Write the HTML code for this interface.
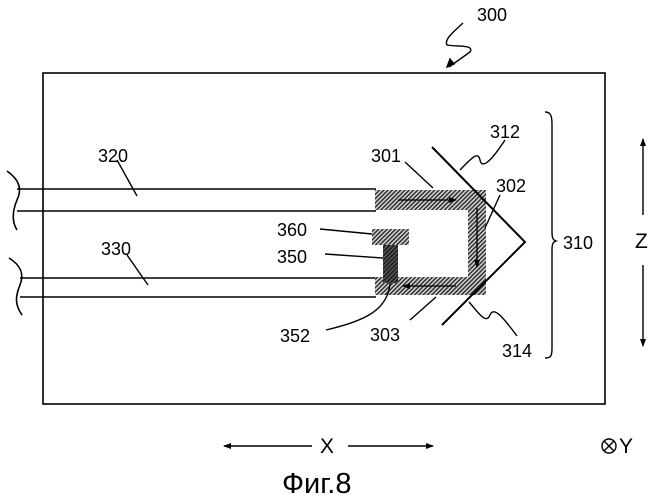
<!DOCTYPE html>
<html><head><meta charset="utf-8"><style>
html,body{margin:0;padding:0;background:#fff;}
svg{display:block;}
text{font-family:"Liberation Sans",sans-serif;fill:#000;}
</style></head><body>
<svg width="659" height="500" viewBox="0 0 659 500" xmlns="http://www.w3.org/2000/svg">
<defs>
<pattern id="h" width="3" height="3" patternUnits="userSpaceOnUse" patternTransform="rotate(45)">
<rect width="3" height="3" fill="#ddd"/><rect width="1.6" height="3" fill="#333"/>
</pattern>
<pattern id="d" width="3" height="3" patternUnits="userSpaceOnUse" patternTransform="rotate(45)">
<rect width="3" height="3" fill="#222"/><rect width="1" height="3" fill="#666"/>
</pattern>
<marker id="a" markerWidth="8" markerHeight="8" refX="7" refY="4" orient="auto" markerUnits="userSpaceOnUse">
<path d="M0,1 L8,4 L0,7 z" fill="#000"/></marker>
</defs>
<g stroke="#000" fill="none" stroke-width="1.6">
<rect x="43" y="73" width="562" height="331"/>
<line x1="17" y1="189" x2="376" y2="189"/>
<line x1="17" y1="211" x2="376" y2="211"/>
<line x1="20" y1="278" x2="376" y2="278"/>
<line x1="20" y1="297" x2="376" y2="297"/>
<path d="M7,171 C20,180 22,190 17,200 C12,212 12,222 17,230"/>
<path d="M9,258 C22,266 24,275 20,285 C15,297 15,305 22,315"/>
</g>
<g stroke="none">
<rect x="375" y="190" width="111" height="20" fill="url(#h)"/>
<rect x="468" y="190" width="18" height="105" fill="url(#h)"/>
<rect x="375" y="277" width="111" height="18" fill="url(#h)"/>
<rect x="372" y="229" width="37" height="16" fill="url(#h)"/>
<rect x="383" y="245" width="15" height="38" fill="url(#d)"/>
</g>
<g stroke="#000" fill="none" stroke-width="1.3">
<line x1="398" y1="200" x2="456" y2="200" marker-end="url(#a)"/>
<line x1="477" y1="208" x2="477" y2="267" marker-end="url(#a)"/>
<line x1="456" y1="286" x2="403" y2="286" marker-end="url(#a)"/>
</g>
<g stroke="#000" fill="none" stroke-width="2">
<polyline points="432,147 525,242 442,325"/>
</g>
<g stroke="#000" fill="none" stroke-width="1.4">
<line x1="117" y1="160" x2="137" y2="196"/>
<line x1="127" y1="255" x2="148" y2="285"/>
<line x1="405" y1="162" x2="433" y2="188"/>
<path d="M460,170 C470,160 478,150 480,160 C482,170 492,160 505,140"/>
<line x1="500" y1="195" x2="485" y2="228"/>
<line x1="410" y1="320" x2="436" y2="297"/>
<path d="M469,302 C478,312 486,325 490,315 C494,305 505,320 517,336"/>
<line x1="320" y1="229" x2="372" y2="234"/>
<line x1="325" y1="254" x2="383" y2="258"/>
<path d="M326,330 C360,322 388,312 390,283"/>
<path d="M463,23 C452,33 444,40 447,45 C455,47 475,44 470,52 L449,67" />
<path d="M447,67 l3,-8 l4,5 z" fill="#000"/>
<path d="M545,112 C551,112 552,116 552,125 L552,232 C552,238 553,240 556,241 C553,242 552,244 552,250 L552,348 C552,356 551,358 545,358"/>
<line x1="643" y1="215" x2="643" y2="139" marker-end="url(#a)"/>
<line x1="643" y1="265" x2="643" y2="346" marker-end="url(#a)"/>
<line x1="312" y1="446" x2="224" y2="446" marker-end="url(#a)"/>
<line x1="348" y1="446" x2="433" y2="446" marker-end="url(#a)"/>
<circle cx="609" cy="446" r="7"/>
<line x1="604" y1="441" x2="614" y2="451"/>
<line x1="614" y1="441" x2="604" y2="451"/>
</g>
<g font-size="18">
<text x="477" y="21">300</text>
<text x="98" y="162">320</text>
<text x="101" y="255">330</text>
<text x="371" y="162">301</text>
<text x="490" y="138">312</text>
<text x="496" y="192">302</text>
<text x="277" y="236">360</text>
<text x="277" y="263">350</text>
<text x="280" y="342">352</text>
<text x="370" y="341">303</text>
<text x="502" y="357">314</text>
<text x="563" y="249">310</text>
</g>
<g font-size="21">
<text x="635" y="248">Z</text>
<text x="320" y="453">X</text>
<text x="619" y="453">Y</text>
</g>
<text x="282" y="493" font-size="29">Фиг.8</text>
</svg>
</body></html>
